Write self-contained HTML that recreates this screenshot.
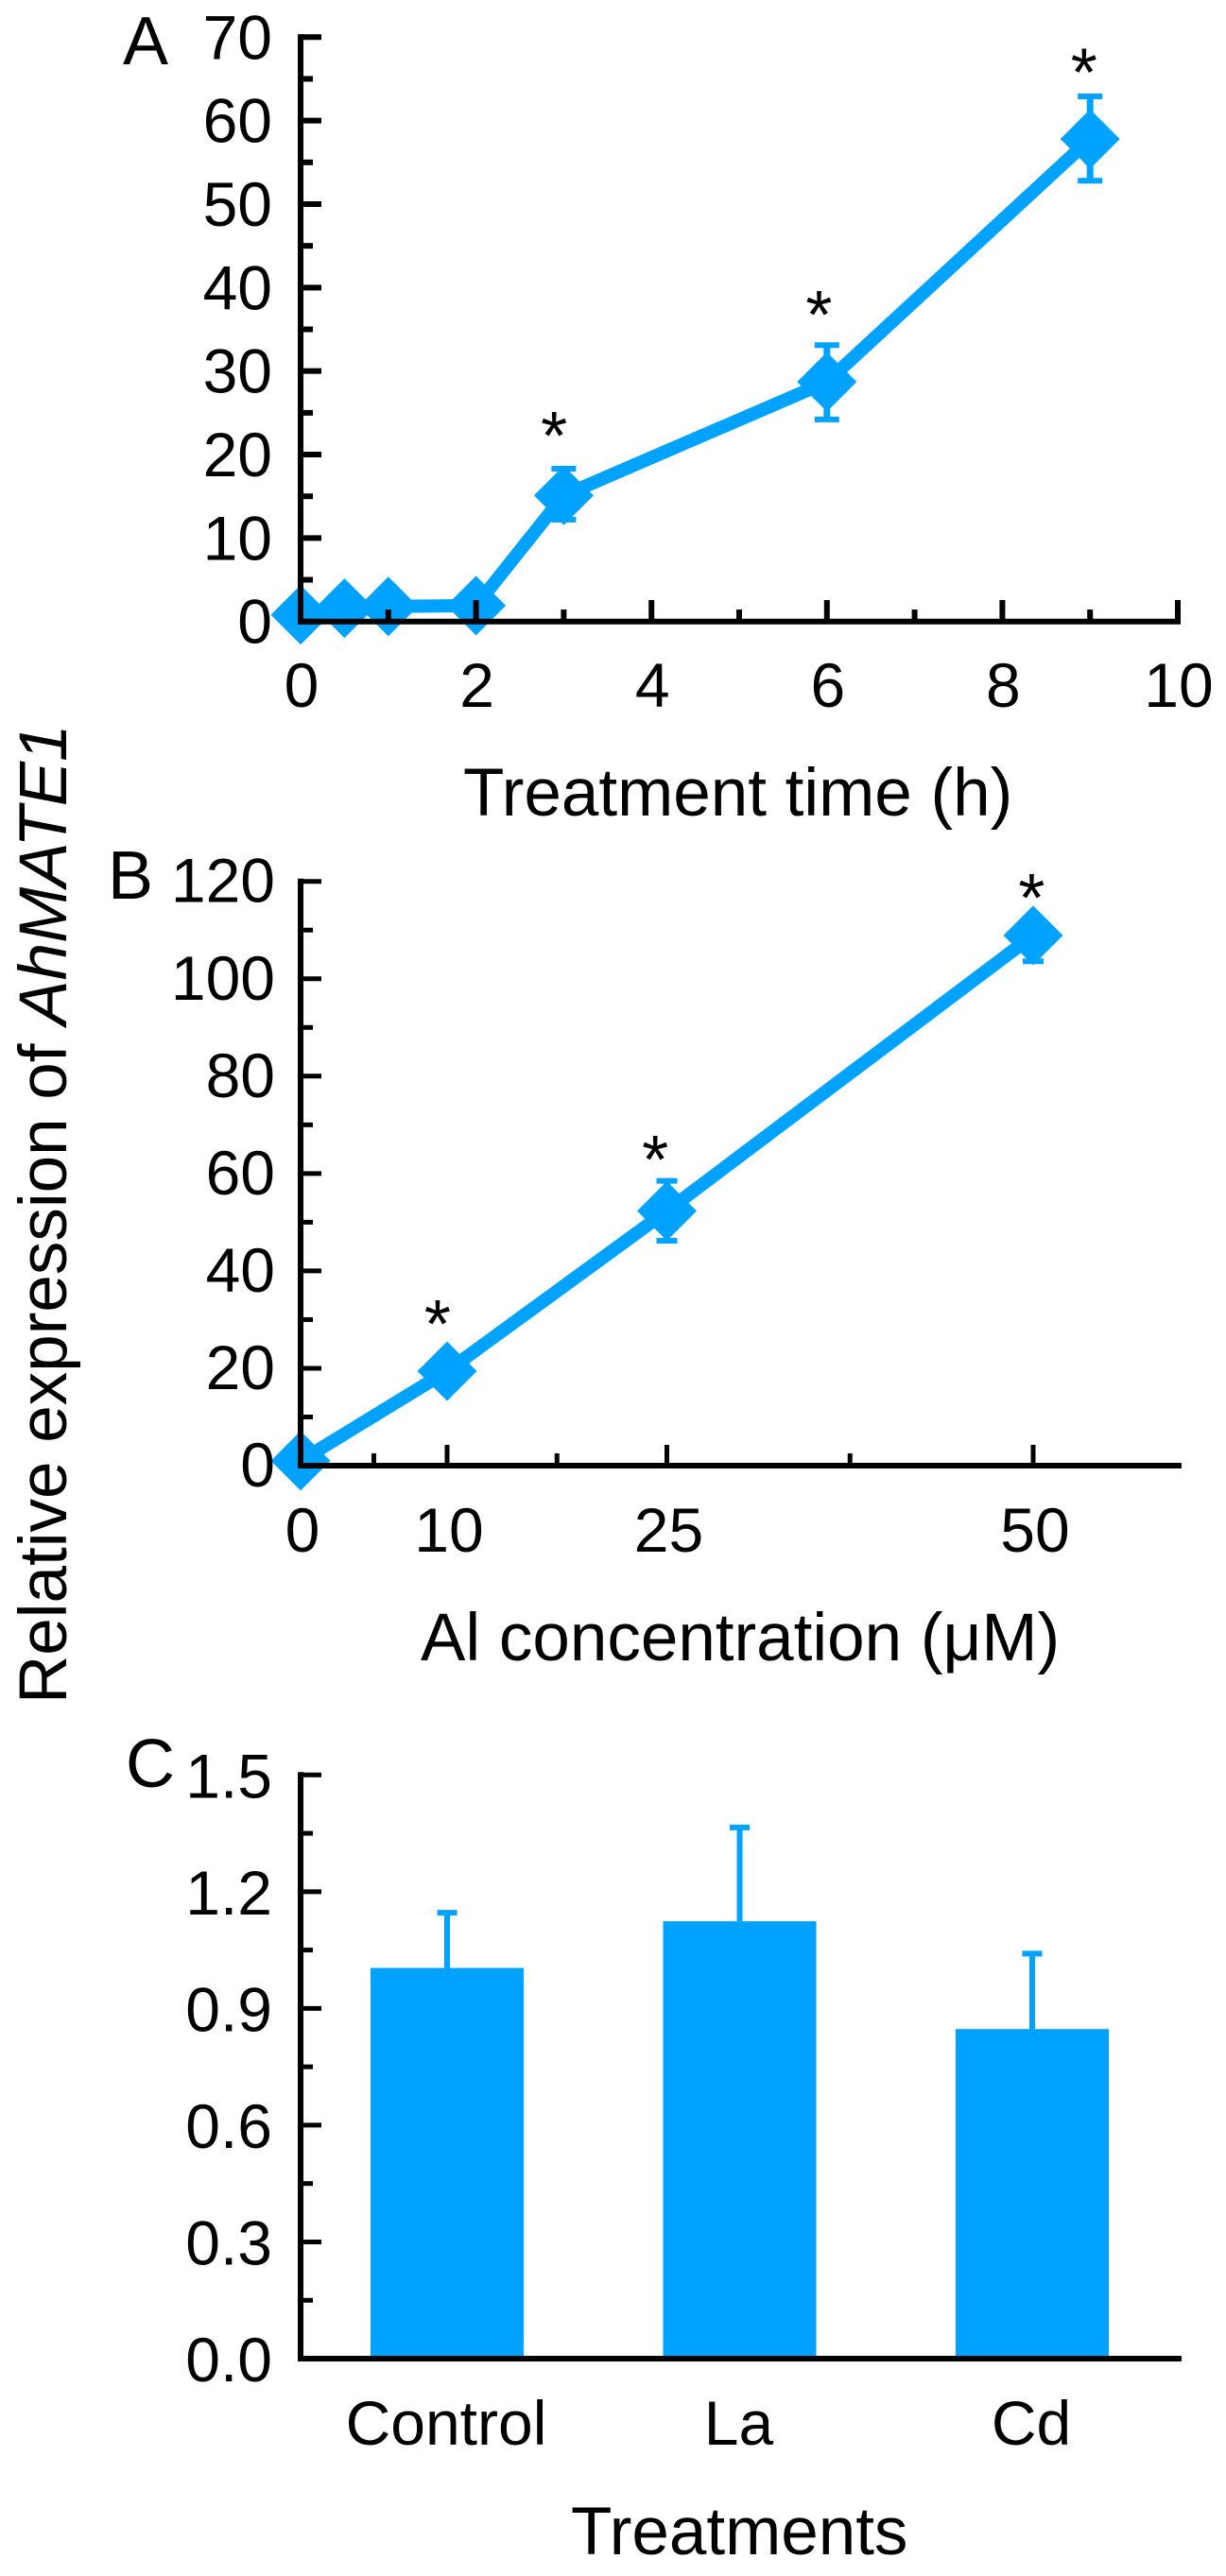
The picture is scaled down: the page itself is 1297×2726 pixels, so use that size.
<!DOCTYPE html>
<html lang="en">
<head>
<meta charset="utf-8">
<title>Relative expression of AhMATE1</title>
<style>
html,body{margin:0;padding:0;background:#fff;}
svg{display:block;font-family:"Liberation Sans",Arial,sans-serif;}
text{fill:#000;}
</style>
</head>
<body>
<svg id="figure" xmlns="http://www.w3.org/2000/svg" width="1297" height="2726" viewBox="0 0 1297 2726">
  <rect x="0" y="0" width="1297" height="2726" fill="#fff"/>
  <text transform="translate(70,1803) rotate(-90)" font-size="71">Relative expression of <tspan font-style="italic">AhMATE1</tspan></text>

  <g id="panel-a">
    <text x="130" y="68" font-size="72">A</text>
    <text x="490" y="863" font-size="71">Treatment time (h)</text>
  </g>
  <g id="panel-b">
    <text x="114" y="951" font-size="72">B</text>
    <text x="445" y="1757" font-size="71">Al concentration (μM)</text>
  </g>
  <g id="panel-c">
    <text x="133" y="1891" font-size="72">C</text>
    <text x="604" y="2703" font-size="71">Treatments</text>
  </g>
</svg>
<script>
// ---- Panel A data: treatment time course ----
const timeHours = [0, 0.5, 1, 2, 3, 6, 9];
const timeExpression = [0.8, 1.6, 1.8, 1.9, 15.1, 28.7, 57.8];
const timeErrUp = [0.4, 0.5, 0.5, 0.5, 3.2, 4.4, 5.1];
const timeErrDown = [0.4, 0.5, 0.5, 0.5, 2.9, 4.5, 5.0];
const timeStarIndex = [4, 5, 6];
const timeStarLift = [5.0, 4.7, 3.9];
const timeStarShift = [-0.11, -0.09, -0.07];
const timeYTicks = [0, 10, 20, 30, 40, 50, 60, 70];
const timeYMinor = [5, 15, 25, 35, 45, 55, 65];
const timeXTicks = [0, 2, 4, 6, 8, 10];
const timeXMinor = [1, 3, 5, 7, 9];

// ---- Panel B data: Al concentration ----
const concDose = [0, 10, 25, 50];
const concExpression = [1, 19.4, 52.3, 108.9];
const concErrUp = [0.5, 2.5, 6.2, 3.4];
const concErrDown = [0.5, 2.5, 6.1, 5.3];
const concStarIndex = [1, 2, 3];
const concStarLift = [9.0, 6.1, 6.1];
const concStarShift = [-0.65, -0.8, -0.1];
const concYTicks = [0, 20, 40, 60, 80, 100, 120];
const concYMinor = [10, 30, 50, 70, 90, 110];
const concXLabels = [0, 10, 25, 50];
const concXMajor = [10, 25, 50];
const concXMinor = [5, 17.5, 37.5];

// ---- Panel C data: treatments ----
const treatmentNames = ['Control', 'La', 'Cd'];
const treatmentValues = [1.004, 1.124, 0.847];
const treatmentErrUp = [0.142, 0.241, 0.194];
const treatmentYTicks = ['0.0', '0.3', '0.6', '0.9', '1.2', '1.5'];
const treatmentYMinor = [0.15, 0.45, 0.75, 1.05, 1.35];

const NS = 'http://www.w3.org/2000/svg';
const BLUE = '#00a2ff';
const FRAME_X = 318;

function scale(d0, d1, r0, r1) {
  return function (v) { return r0 + (v - d0) * (r1 - r0) / (d1 - d0); };
}

function add(parent, tag, attrs, name) {
  const el = document.createElementNS(NS, tag);
  for (const k in attrs) el.setAttribute(k, attrs[k]);
  
  
  parent.appendChild(el);
  return el;
}

function segment(parent, x1, y1, x2, y2, width, color, name) {
  return add(parent, 'line', {x1: x1, y1: y1, x2: x2, y2: y2, stroke: color, 'stroke-width': width}, name);
}

function label(parent, x, y, str, anchor, size, name) {
  const t = add(parent, 'text', {x: x, y: y, 'text-anchor': anchor, 'font-size': size}, name);
  t.textContent = str;
  return t;
}

function drawAxes(g, o) {
  const base = o.y(0);
  const axis = add(g, 'g', {}, 'axes');
  segment(axis, FRAME_X, o.y(o.yMax) - 3, FRAME_X, base + 3, 6, '#000', 'y-axis-line');
  segment(axis, FRAME_X - 3, base, o.xEnd, base, 6, '#000', 'x-axis-line');
  o.yMajor.forEach(function (v) {
    segment(axis, FRAME_X, o.y(v), 340, o.y(v), o.tickW, '#000', 'y-major-tick');
    label(axis, o.yLabelX, o.y(v) + o.yLabelDy, o.yFormat(v), 'end', 66, 'y-tick-label');
  });
  o.yMinor.forEach(function (v) {
    segment(axis, FRAME_X, o.y(v), 331, o.y(v), o.tickW, '#000', 'y-minor-tick');
  });
  o.xMajor.forEach(function (v) {
    segment(axis, o.x(v), base, o.x(v), o.majorTop, o.xTickW, '#000', 'x-major-tick');
  });
  o.xMinor.forEach(function (v) {
    segment(axis, o.x(v), base, o.x(v), o.minorTop, o.xTickW, '#000', 'x-minor-tick');
  });
  o.xLabels.forEach(function (v) {
    label(axis, o.x(v) + o.xLabelDx, o.xLabelY, String(v), 'middle', 66, 'x-tick-label');
  });
}

function drawSeries(g, o) {
  const pts = o.xs.map(function (v, i) { return o.x(v) + ',' + o.y(o.ys[i]); }).join(' ');
  add(g, 'polyline', {points: pts, fill: 'none', stroke: BLUE, 'stroke-width': 14, 'stroke-linejoin': 'round'}, 'expression-line');
  o.xs.forEach(function (v, i) {
    const px = o.x(v), py = o.y(o.ys[i]);
    const top = o.y(o.ys[i] + o.up[i]), bottom = o.y(o.ys[i] - o.down[i]);
    segment(g, px, top, px, bottom, 7, BLUE, 'error-bar-stem');
    segment(g, px - o.capHalf, top, px + o.capHalf, top, 6, BLUE, 'error-bar-cap-upper');
    segment(g, px - o.capHalf, bottom, px + o.capHalf, bottom, 6, BLUE, 'error-bar-cap-lower');
    const r = 31.5;
    add(g, 'polygon', {points: (px - r) + ',' + py + ' ' + px + ',' + (py - r) + ' ' + (px + r) + ',' + py + ' ' + px + ',' + (py + r), fill: BLUE}, 'data-point-diamond');
  });
  o.starIndex.forEach(function (idx, j) {
    const sx = o.x(o.xs[idx] + o.starShift[j]);
    const sy = o.y(o.ys[idx] + o.up[idx] + o.starLift[j]);
    label(g, sx, sy + 34, '*', 'middle', 72, 'significance-asterisk');
  });
}

// Panel A
(function () {
  const g = document.getElementById('panel-a');
  const x = scale(0, 10, FRAME_X, 1246);
  const y = scale(0, 70, 657.7, 39.3);
  const marks = add(g, 'g', {}, 'time-series');
  drawSeries(marks, {x: x, y: y, xs: timeHours, ys: timeExpression, up: timeErrUp, down: timeErrDown,
    capHalf: 13, starIndex: timeStarIndex, starLift: timeStarLift, starShift: timeStarShift});
  drawAxes(g, {x: x, y: y, yMax: 70, xEnd: 1249, yMajor: timeYTicks, yMinor: timeYMinor,
    yFormat: String, yLabelX: 288, yLabelDy: 23, tickW: 6, xTickW: 6,
    xMajor: timeXTicks.slice(1), xMinor: timeXMinor, majorTop: 635, minorTop: 645,
    xLabels: timeXTicks, xLabelDx: 1, xLabelY: 748});
})();

// Panel B
(function () {
  const g = document.getElementById('panel-b');
  const x = scale(0, 60, FRAME_X, 1248);
  const y = scale(0, 120, 1551, 932.7);
  const marks = add(g, 'g', {}, 'concentration-series');
  drawSeries(marks, {x: x, y: y, xs: concDose, ys: concExpression, up: concErrUp, down: concErrDown,
    capHalf: 11, starIndex: concStarIndex, starLift: concStarLift, starShift: concStarShift});
  drawAxes(g, {x: x, y: y, yMax: 120, xEnd: 1250, yMajor: concYTicks, yMinor: concYMinor,
    yFormat: String, yLabelX: 291, yLabelDy: 22, tickW: 5, xTickW: 5,
    xMajor: concXMajor, xMinor: concXMinor, majorTop: 1529, minorTop: 1538,
    xLabels: concXLabels, xLabelDx: 2, xLabelY: 1642});
})();

// Panel C
(function () {
  const g = document.getElementById('panel-c');
  const x = scale(0, 2, 473, 1092);
  const y = scale(0, 1.5, 2496, 1878.3);
  const bars = add(g, 'g', {}, 'treatment-bars');
  treatmentNames.forEach(function (name, i) {
    const cx = x(i), top = y(treatmentValues[i]), capY = y(treatmentValues[i] + treatmentErrUp[i]);
    segment(bars, cx, top, cx, capY, 6, BLUE, 'bar-error-stem');
    segment(bars, cx - 10.5, capY, cx + 10.5, capY, 6, BLUE, 'bar-error-cap');
    add(bars, 'rect', {x: cx - 81, y: top, width: 162, height: y(0) - top, fill: BLUE}, 'treatment-bar');
    label(bars, cx - 1, 2587, name, 'middle', 66, 'category-label');
  });
  drawAxes(g, {x: x, y: y, yMax: 1.5, xEnd: 1250, yMajor: treatmentYTicks.map(Number), yMinor: treatmentYMinor,
    yFormat: function (v) { return v.toFixed(1); }, yLabelX: 288, yLabelDy: 24, tickW: 5, xTickW: 5,
    xMajor: [], xMinor: [], majorTop: 0, minorTop: 0, xLabels: [], xLabelDx: 0, xLabelY: 0});
})();
</script>
</body>
</html>
